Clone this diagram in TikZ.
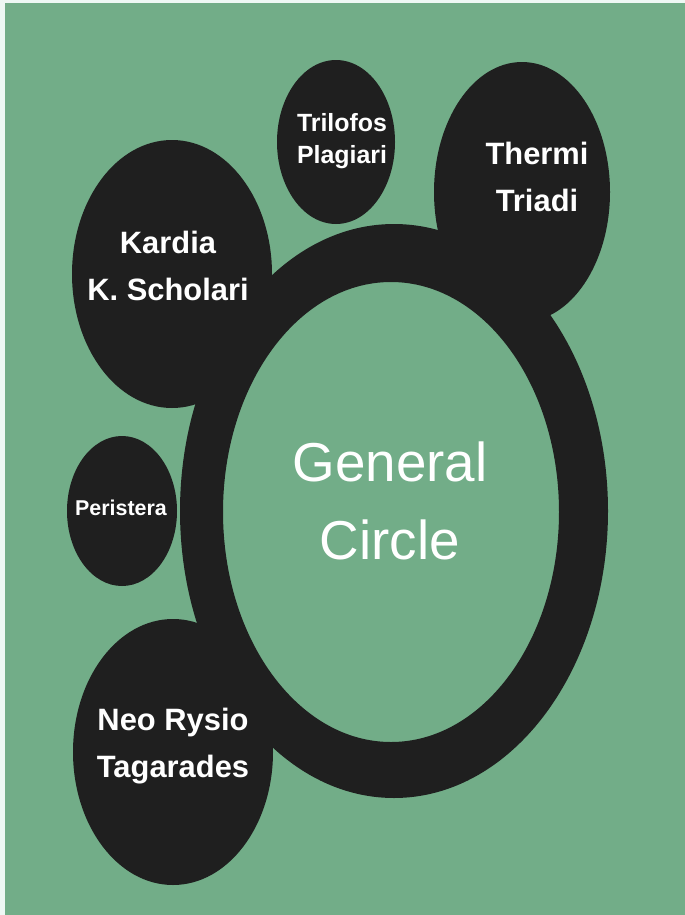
\documentclass[tikz,border=0pt]{standalone}
\usepackage{fontspec}
\setmainfont{Liberation Sans}
\usepackage{xcolor}
\usetikzlibrary{positioning}
\definecolor{meadow}{RGB}{114,173,136}
\definecolor{ink}{RGB}{31,31,31}
\definecolor{paper}{RGB}{238,248,244}

\begin{document}
\begin{tikzpicture}[x=1bp, y=-1bp,
	blob/.style={fill=ink},
	lbl/.style={text=white, align=center, inner sep=0pt, font=\bfseries\fontsize{31}{48}\selectfont}]
	\useasboundingbox (0,0) rectangle (685,915);
	\fill[paper] (0,0) rectangle (685,915);
	\fill[meadow] (5,3) rectangle (685,915);
	\fill[blob, even odd rule] (394,511) ellipse [x radius=214, y radius=287]
		(391,512) ellipse [x radius=168, y radius=230];
	\fill[blob] (336,142) ellipse [x radius=59, y radius=82];
	\fill[blob] (522,192) ellipse [x radius=88, y radius=130];
	\fill[blob] (172,274) ellipse [x radius=100, y radius=134];
	\fill[blob] (122,511) ellipse [x radius=55, y radius=75];
	\fill[blob] (173,752) ellipse [x radius=100, y radius=133];
	\node[lbl, font=\bfseries\fontsize{25}{32}\selectfont] (trilofos) at (342,141) {Trilofos\\Plagiari};
	\node[lbl] (thermi) at (537,177) {Thermi\\Triadi};
	\node[lbl] (kardia) at (168,266) {Kardia\\K. Scholari};
	\node[lbl, font=\bfseries\fontsize{21.5}{26}\selectfont] (peristera) at (121,508) {Peristera};
	\node[lbl] (neorysio) at (173,746) {Neo Rysio\\Tagarades};
	\node[lbl, font=\fontsize{55}{78}\selectfont] (general) at (390,501) {General\\Circle};
\end{tikzpicture}
\end{document}
